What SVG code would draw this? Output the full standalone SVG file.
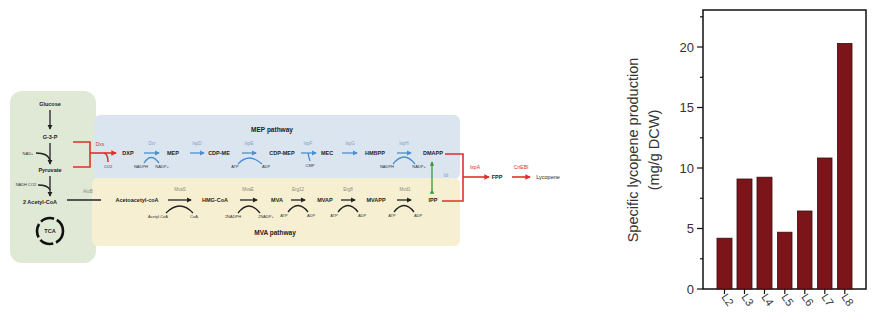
<svg xmlns="http://www.w3.org/2000/svg" width="874" height="320" viewBox="0 0 874 320">
<defs>
<style>
.t{font-family:"Liberation Sans",Arial,sans-serif}
.cmp{font-family:"Liberation Sans",Arial,sans-serif;font-weight:bold;font-size:5.5px;fill:#1e1e1e;text-anchor:middle}
.enzb{font-family:"Liberation Sans",Arial,sans-serif;font-size:4.5px;fill:#7f9fc4;text-anchor:middle}
.enzk{font-family:"Liberation Sans",Arial,sans-serif;font-size:4.5px;fill:#8a8a7a;text-anchor:middle}
.enzr{font-family:"Liberation Sans",Arial,sans-serif;font-size:5px;fill:#e0302a;text-anchor:middle}
.cof{font-family:"Liberation Sans",Arial,sans-serif;font-size:4px;fill:#333;text-anchor:middle}
.ttl{font-family:"Liberation Sans",Arial,sans-serif;font-weight:bold;font-size:6.5px;fill:#222;text-anchor:middle}
.blue{stroke:#4b8fd0;stroke-width:1.3;fill:none}
.blk{stroke:#222;stroke-width:1.3;fill:none}
.red{stroke:#e0302a;stroke-width:1.6;fill:none}
.bar{fill:#7b1519;stroke:#3a0a0a;stroke-width:0.8}
.tick{stroke:#111;stroke-width:1.2}
.axl{font-family:"Liberation Sans",Arial,sans-serif;font-size:13px;fill:#333;text-anchor:end}
.xl{font-family:"Liberation Sans",Arial,sans-serif;font-size:11px;fill:#333}
</style>
<marker id="ab" viewBox="0 0 6 6" refX="5" refY="3" markerWidth="4" markerHeight="4" orient="auto"><path d="M0,0 L6,3 L0,6 z" fill="#4b8fd0"/></marker>
<marker id="ak" viewBox="0 0 6 6" refX="5" refY="3" markerWidth="4" markerHeight="4" orient="auto"><path d="M0,0 L6,3 L0,6 z" fill="#222"/></marker>
<marker id="ar" viewBox="0 0 6 6" refX="5" refY="3" markerWidth="3.5" markerHeight="3.5" orient="auto"><path d="M0,0 L6,3 L0,6 z" fill="#e0302a"/></marker>
<marker id="ag" viewBox="0 0 6 6" refX="5" refY="3" markerWidth="3.5" markerHeight="3.5" orient="auto"><path d="M0,0 L6,3 L0,6 z" fill="#3a9a3a"/></marker>
</defs>
<rect width="874" height="320" fill="#fff"/>

<!-- background panels -->
<g id="panel-glycolysis"><rect x="10" y="91" width="86" height="172" rx="12" fill="#dfe9d6"/></g>
<g id="panel-mep"><rect x="94" y="115" width="366" height="64" rx="6" fill="#dbe5f0"/><text class="ttl" x="272" y="132">MEP pathway</text></g>
<g id="panel-mva"><rect x="92" y="178" width="368" height="68" rx="6" fill="#f7efd2"/><text class="ttl" x="275" y="235">MVA pathway</text></g>

<!-- glycolysis nodes -->
<g id="glucose"><text class="cmp" x="50" y="106">Glucose</text></g>
<g id="g3p"><text class="cmp" x="50" y="139">G-3-P</text></g>
<g id="pyruvate"><text class="cmp" x="50" y="172">Pyruvate</text></g>
<g id="acetylcoa"><text class="cmp" x="40" y="204">2 Acetyl-CoA</text></g>
<g id="tca"><circle cx="50" cy="231" r="13" fill="none" stroke="#111" stroke-width="2.6" stroke-dasharray="14 3"/><text class="cmp" x="50" y="233">TCA</text></g>
<text class="cof" x="28" y="155">NAD+</text>
<text class="cof" x="26" y="186">NADH CO2</text>

<!-- MEP nodes -->
<g id="dxp"><text class="cmp" x="128" y="155">DXP</text></g>
<g id="mep"><text class="cmp" x="173" y="155">MEP</text></g>
<g id="cdpme"><text class="cmp" x="219" y="155">CDP-ME</text></g>
<g id="cdpmep"><text class="cmp" x="282" y="155">CDP-MEP</text></g>
<g id="mec"><text class="cmp" x="327" y="155">MEC</text></g>
<g id="hmbpp"><text class="cmp" x="375" y="155">HMBPP</text></g>
<g id="dmapp"><text class="cmp" x="433" y="155">DMAPP</text></g>

<!-- MVA nodes -->
<g id="acetoacetylcoa"><text class="cmp" x="137" y="202">Acetoacetyl-coA</text></g>
<g id="hmgcoa"><text class="cmp" x="215" y="202">HMG-CoA</text></g>
<g id="mva"><text class="cmp" x="277" y="202">MVA</text></g>
<g id="mvap"><text class="cmp" x="325" y="202">MVAP</text></g>
<g id="mvapp"><text class="cmp" x="376" y="202">MVAPP</text></g>
<g id="ipp"><text class="cmp" x="433" y="202">IPP</text></g>

<!-- downstream -->
<g id="fpp"><text class="cmp" x="497" y="179">FPP</text></g>
<g id="lycopene"><text class="cmp" x="548" y="179" style="font-weight:normal">Lycopene</text></g>

<g id="connectors">
  <!-- glycolysis -->
  <path class="blk" d="M50,110 L50,129" stroke-width="2" marker-end="url(#ak)"/>
  <path class="blk" d="M50,143 L50,164" stroke-width="2" marker-end="url(#ak)"/>
  <path class="blk" d="M36,153 Q48,153 50,160" stroke-width="1"/>
  <path class="blk" d="M50,176 L50,196" stroke-width="2" marker-end="url(#ak)"/>
  <path class="blk" d="M38,185 Q48,185 50,190" stroke-width="1"/>
  <!-- red bracket into DXP -->
  <path class="red" d="M73,142 L90,142 L90,167 L73,167"/>
  <path class="red" d="M90,153 L116,153" marker-end="url(#ar)"/>
  <path class="red" d="M104,153 Q108,154 108,162" stroke-width="1"/>
  <text class="enzr" x="100" y="146">Dxs</text>
  <text class="cof" x="108" y="168">CO2</text>
  <!-- MEP steps -->
  <path class="blue" d="M144,153 L159,153" marker-end="url(#ab)"/>
  <path class="blue" d="M144,163 Q151,152 159,163" stroke-width="1"/>
  <text class="enzb" x="152" y="145">Dxr</text>
  <text class="cof" x="141" y="168">NADPH</text><text class="cof" x="162" y="168">NADP+</text>
  <path class="blue" d="M190,153 L204,153" marker-end="url(#ab)"/>
  <text class="enzb" x="197" y="145">IspD</text>
  <path class="blue" d="M242,153 L256,153" marker-end="url(#ab)"/>
  <path class="blue" d="M238,164 Q249,152 262,164" stroke-width="1"/>
  <text class="enzb" x="249" y="145">IspE</text>
  <text class="cof" x="235" y="168">ATP</text><text class="cof" x="266" y="168">ADP</text>
  <path class="blue" d="M301,153 L316,153" marker-end="url(#ab)"/>
  <path class="blue" d="M308,153 Q309,158 310,161" stroke-width="1"/>
  <text class="enzb" x="308" y="145">IspF</text>
  <text class="cof" x="310" y="167">CMP</text>
  <path class="blue" d="M342,153 L357,153" marker-end="url(#ab)"/>
  <text class="enzb" x="350" y="145">IspG</text>
  <path class="blue" d="M397,153 L411,153" marker-end="url(#ab)"/>
  <path class="blue" d="M393,164 Q404,150 415,164" stroke-width="1"/>
  <text class="enzb" x="404" y="145">IspH</text>
  <text class="cof" x="387" y="168">NADPH</text><text class="cof" x="419" y="168">NADP+</text>
  <!-- idi -->
  <path d="M432,190 L432,162" stroke="#3a9a3a" stroke-width="1.3" fill="none" marker-end="url(#ag)" marker-start="url(#ag)"/>
  <text class="enzb" x="446" y="177">Idi</text>
  <!-- MVA steps -->
  <path class="blk" d="M67,200 L101,200"/>
  <text class="enzk" x="88" y="193">AtoB</text>
  <path class="blk" d="M168,200 L191,200" marker-end="url(#ak)"/>
  <path class="blk" d="M166,213 Q180,199 193,213" stroke-width="1"/>
  <text class="enzk" x="180" y="191">MvaS</text>
  <text class="cof" x="158" y="218">Acetyl-CoA</text><text class="cof" x="194" y="218">CoA</text>
  <path class="blk" d="M240,200 L257,200" marker-end="url(#ak)"/>
  <path class="blk" d="M238,213 Q249,199 260,213" stroke-width="1"/>
  <text class="enzk" x="248" y="191">MvaE</text>
  <text class="cof" x="233" y="218">2NADPH</text><text class="cof" x="266" y="218">2NADP+</text>
  <path class="blk" d="M291,200 L305,200" marker-end="url(#ak)"/>
  <path class="blk" d="M288,212 Q298,199 308,212" stroke-width="1"/>
  <text class="enzk" x="298" y="191">Erg12</text>
  <text class="cof" x="284" y="217">ATP</text><text class="cof" x="311" y="217">ADP</text>
  <path class="blk" d="M341,200 L355,200" marker-end="url(#ak)"/>
  <path class="blk" d="M338,212 Q348,199 358,212" stroke-width="1"/>
  <text class="enzk" x="348" y="191">Erg8</text>
  <text class="cof" x="334" y="217">ATP</text><text class="cof" x="362" y="217">ADP</text>
  <path class="blk" d="M397,200 L411,200" marker-end="url(#ak)"/>
  <path class="blk" d="M394,212 Q404,199 414,212" stroke-width="1"/>
  <text class="enzk" x="405" y="191">Mvd1</text>
  <text class="cof" x="392" y="217">ATP</text><text class="cof" x="418" y="217">ADP</text>
  <!-- to lycopene -->
  <path class="red" d="M445,154 L463,154 L463,201 L442,201"/>
  <path class="red" d="M463,177 L489,177" marker-end="url(#ar)"/>
  <text class="enzr" x="475" y="169">IspA</text>
  <path class="red" d="M512,177 L530,177" marker-end="url(#ar)"/>
  <text class="enzr" x="521" y="169">CrtEBI</text>
</g>

<!-- chart -->
<g id="chart">
  <rect x="703" y="10" width="163" height="279" fill="none" stroke="#111" stroke-width="1.5"/>
  <g class="tick">
    <line x1="697" y1="289" x2="703" y2="289"/><line x1="697" y1="228.5" x2="703" y2="228.5"/>
    <line x1="697" y1="168" x2="703" y2="168"/><line x1="697" y1="107.5" x2="703" y2="107.5"/>
    <line x1="697" y1="47" x2="703" y2="47"/>
    <line x1="700" y1="258.8" x2="703" y2="258.8"/><line x1="700" y1="198.3" x2="703" y2="198.3"/>
    <line x1="700" y1="137.8" x2="703" y2="137.8"/><line x1="700" y1="77.3" x2="703" y2="77.3"/>
    <line x1="700" y1="16.8" x2="703" y2="16.8"/>
  </g>
  <text class="axl" x="694" y="294">0</text>
  <text class="axl" x="694" y="233">5</text>
  <text class="axl" x="694" y="173">10</text>
  <text class="axl" x="694" y="112">15</text>
  <text class="axl" x="694" y="52">20</text>
  <text class="t" transform="translate(638,150) rotate(-90)" text-anchor="middle" font-size="14.5" fill="#333">Specific lycopene production</text>
  <text class="t" transform="translate(659,150) rotate(-90)" text-anchor="middle" font-size="14.5" fill="#333">(mg/g DCW)</text>
  <rect class="bar" x="717" y="238.2" width="15" height="50.8"/>
  <rect class="bar" x="737" y="179" width="15" height="110"/>
  <rect class="bar" x="757" y="177.2" width="15" height="111.8"/>
  <rect class="bar" x="777.5" y="232.2" width="14.5" height="56.8"/>
  <rect class="bar" x="797.5" y="211" width="14.5" height="78"/>
  <rect class="bar" x="817.5" y="158" width="14.5" height="131"/>
  <rect class="bar" x="837.5" y="43.5" width="14.5" height="245.5"/>
  <g class="tick">
    <line x1="724.5" y1="289" x2="724.5" y2="294"/><line x1="744.5" y1="289" x2="744.5" y2="294"/>
    <line x1="764.5" y1="289" x2="764.5" y2="294"/><line x1="784.8" y1="289" x2="784.8" y2="294"/>
    <line x1="804.8" y1="289" x2="804.8" y2="294"/><line x1="824.8" y1="289" x2="824.8" y2="294"/>
    <line x1="844.8" y1="289" x2="844.8" y2="294"/>
  </g>
  <text class="xl" transform="translate(721,297) rotate(55)">L2</text>
  <text class="xl" transform="translate(741,297) rotate(55)">L3</text>
  <text class="xl" transform="translate(761,297) rotate(55)">L4</text>
  <text class="xl" transform="translate(781,297) rotate(55)">L5</text>
  <text class="xl" transform="translate(801,297) rotate(55)">L6</text>
  <text class="xl" transform="translate(821,297) rotate(55)">L7</text>
  <text class="xl" transform="translate(841,297) rotate(55)">L8</text>
</g>
</svg>
